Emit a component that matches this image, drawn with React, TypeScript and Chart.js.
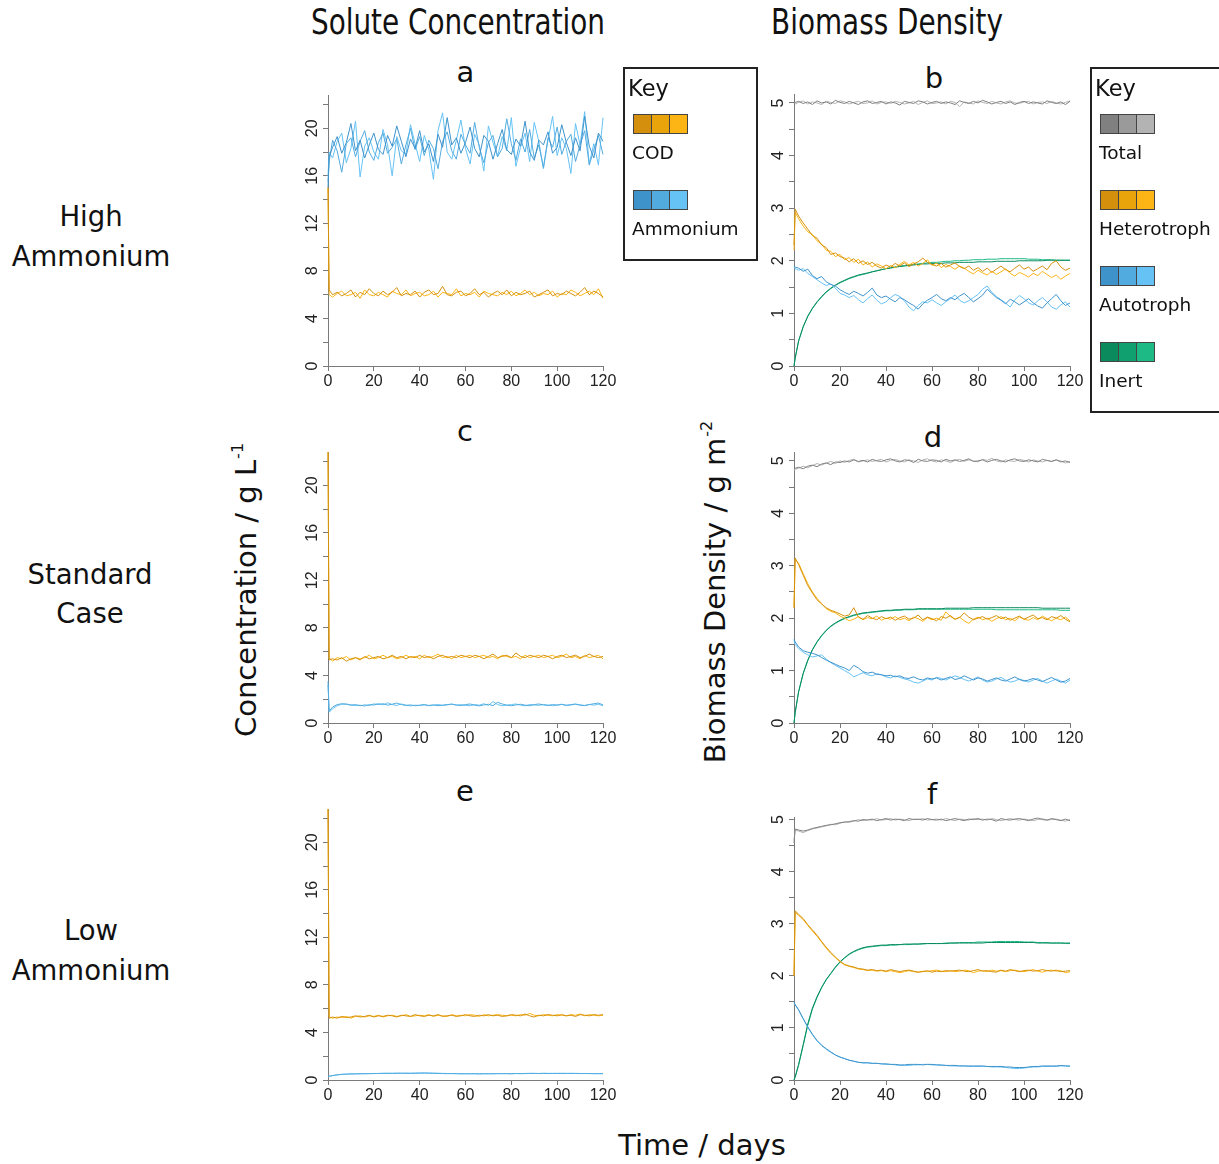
import React, { useEffect, useRef } from 'react';
import { Chart, registerables } from 'chart.js';
Chart.register(...registerables);

// ---------- data ----------
const DAYS = [0, 0.5,
  2, 4, 6, 8, 10, 12, 14, 16, 18, 20,
  22, 24, 26, 28, 30, 32, 34, 36, 38, 40,
  42, 44, 46, 48, 50, 52, 54, 56, 58, 60,
  62, 64, 66, 68, 70, 72, 74, 76, 78, 80,
  82, 84, 86, 88, 90, 92, 94, 96, 98, 100,
  102, 104, 106, 108, 110, 112, 114, 116, 118, 120];

const X_TICKS = [0, 20, 40, 60, 80, 100, 120];
const SOLUTE_TICKS = [0, 2, 4, 6, 8, 10, 12, 14, 16, 18, 20, 22];
const SOLUTE_LABELS = [0, 4, 8, 12, 16, 20];
const BIOMASS_TICKS = [0, 0.5, 1, 1.5, 2, 2.5, 3, 3.5, 4, 4.5, 5];
const BIOMASS_LABELS = [0, 1, 2, 3, 4, 5];

// Panel a: high ammonium, solutes
const COD_A1 = [15, 6.4,
  6.0, 6.2, 5.9, 6.1, 6.4, 5.8, 6.2, 6.0, 6.5, 6.1,
  5.9, 6.3, 6.0, 6.2, 6.6, 5.9, 6.1, 6.0, 6.3, 5.8,
  6.2, 6.4, 6.0, 6.1, 6.7, 6.0, 5.9, 6.2, 6.3, 5.9,
  6.1, 6.5, 6.0, 6.2, 5.8, 6.1, 6.3, 6.0, 6.4, 5.9,
  6.2, 6.0, 6.1, 6.3, 5.8, 6.0, 6.2, 6.4, 5.9, 6.1,
  6.0, 6.3, 6.1, 5.9, 6.2, 6.6, 6.0, 6.3, 6.1, 5.8];
const COD_A2 = [15, 6.0,
  5.8, 6.1, 6.3, 5.9, 6.0, 6.2, 5.7, 6.4, 6.0, 5.9,
  6.2, 6.0, 5.8, 6.3, 6.1, 6.0, 6.4, 5.9, 6.1, 6.2,
  5.9, 6.0, 6.3, 5.8, 6.2, 6.1, 6.0, 6.5, 5.9, 6.1,
  6.0, 6.2, 5.8, 6.3, 6.1, 6.0, 5.9, 6.2, 6.0, 6.3,
  5.9, 6.1, 6.4, 6.0, 6.2, 5.9, 6.1, 6.0, 6.3, 5.8,
  6.1, 6.0, 6.4, 6.2, 5.9, 6.1, 6.3, 6.0, 6.5, 5.7];
const NH4_A1 = [15, 17.6,
  18.4, 19.3, 17.9, 18.8, 20.4, 18.1, 19.0, 17.5, 18.6, 19.6,
  18.2, 17.8, 19.4, 18.5, 20.2, 18.9, 17.6, 19.1, 18.3, 19.8,
  18.0, 18.7, 17.2, 19.5, 18.4, 20.9, 18.6, 19.2, 17.9, 18.8,
  20.1, 18.3, 17.6, 19.4, 18.9, 17.4, 18.7, 19.9, 18.2, 17.8,
  19.1, 18.5, 20.6, 18.0, 17.3, 19.0, 18.6, 19.7, 17.9, 18.4,
  20.3, 18.8, 17.7, 19.2, 18.1, 21.0, 18.5, 17.5, 19.6, 18.9];
const NH4_A2 = [15.5, 17.2,
  19.0, 18.1, 16.3, 18.7, 19.2, 17.6, 18.9, 19.8, 18.0, 17.3,
  18.8, 19.6, 17.9, 18.4, 19.1, 17.0, 18.6, 20.0, 18.2, 19.3,
  17.7, 19.0, 18.3, 16.6, 18.9, 19.7, 18.1, 17.4, 19.5, 18.6,
  17.9, 20.5, 18.4, 17.1, 18.8, 19.4, 17.6, 18.3, 20.8, 18.7,
  17.3, 19.1, 18.0, 19.9, 17.5, 18.6, 16.7, 19.2, 18.4, 20.1,
  17.8, 18.9, 19.5, 17.2, 18.6, 19.8, 16.9, 18.2, 19.4, 17.8];
const NH4_A3 = [16, 18.0,
  17.5, 18.9, 19.6, 17.1, 18.3, 20.6, 15.9, 18.5, 19.2, 18.0,
  17.4, 19.9, 18.6, 16.0, 19.3, 18.1, 17.8, 20.3, 18.7, 17.2,
  19.4, 18.2, 15.7, 19.8, 21.3, 18.0, 17.4, 19.0, 20.7, 18.3,
  17.0, 19.5, 18.6, 16.4, 20.2, 18.8, 17.6, 19.3, 18.1, 20.9,
  16.8, 18.4, 19.6, 17.2, 20.5, 18.9, 16.6, 19.0, 21.0, 17.7,
  19.2, 18.3, 16.2, 20.4, 18.6, 21.4, 17.0, 18.7, 16.9, 20.9];

// Panel b: high ammonium, biomass
const TOT_B1 = [4.98, 5.01,
  5.03, 4.99, 5.02, 4.97, 5.04, 5.00, 5.02, 4.98, 5.05, 5.01,
  4.99, 5.03, 5.00, 4.97, 5.02, 5.04, 4.99, 5.01, 5.03, 4.98,
  5.02, 5.00, 4.96, 5.03, 5.01, 4.99, 5.04, 5.02, 4.98, 5.01,
  5.03, 4.99, 5.02, 5.00, 4.97, 5.04, 5.01, 4.99, 5.03, 5.00,
  5.05, 5.02, 4.98, 5.01, 5.03, 4.99, 5.02, 4.97, 5.01, 5.03,
  4.99, 5.02, 5.00, 4.98, 5.04, 5.01, 4.99, 5.02, 4.97, 5.03];
const TOT_B2 = [5.00, 4.98,
  5.01, 5.04, 4.98, 5.02, 5.00, 4.97, 5.03, 5.01, 4.99, 5.04,
  5.02, 4.98, 5.01, 5.03, 4.99, 5.00, 5.04, 4.98, 5.01, 5.02,
  4.99, 5.03, 5.01, 4.98, 5.00, 5.03, 4.97, 5.01, 5.04, 4.99,
  5.00, 5.02, 4.98, 5.03, 5.01, 4.93, 5.02, 5.00, 4.98, 5.04,
  5.01, 4.99, 5.03, 5.00, 4.98, 5.02, 5.04, 5.00, 4.99, 5.02,
  5.03, 4.98, 5.01, 5.02, 4.99, 5.03, 5.00, 4.98, 5.01, 5.04];
const HET_B1 = [2.3, 2.98,
  2.85, 2.72, 2.6, 2.48, 2.43, 2.3, 2.25, 2.12, 2.15, 2.08,
  2.05, 1.98, 2.04, 1.95, 2.0, 1.93, 1.97, 1.9, 1.86, 1.92,
  1.88, 1.95, 1.9, 1.96, 1.89, 1.94, 1.98, 2.05, 1.97, 1.93,
  1.9, 1.95, 1.88, 1.92, 1.96, 1.89, 1.85, 1.9, 1.82, 1.87,
  1.8, 1.86, 1.78, 1.84, 1.9, 1.83, 1.79, 1.86, 1.92, 1.84,
  1.88, 1.8, 1.85, 1.9, 1.83, 1.95, 2.0, 1.88, 1.82, 1.86];
const HET_B2 = [2.2, 2.92,
  2.8, 2.66, 2.55, 2.5, 2.38, 2.32, 2.2, 2.18, 2.08, 2.12,
  2.02, 2.06, 1.97, 2.03, 1.92, 1.98, 1.88, 1.94, 1.9, 1.85,
  1.91, 1.87, 1.93, 1.99, 1.92, 1.97, 1.9, 1.95, 2.02, 1.91,
  1.96, 1.87, 1.93, 1.89, 1.84, 1.9, 1.86, 1.8, 1.75, 1.82,
  1.77, 1.73, 1.8, 1.74, 1.79, 1.85, 1.76, 1.71, 1.78, 1.74,
  1.69, 1.76, 1.72, 1.8, 1.74, 1.68, 1.73, 1.65, 1.71, 1.76];
const AUT_B1 = [1.9, 1.88,
  1.86, 1.8, 1.84, 1.72, 1.66, 1.7, 1.6, 1.55, 1.52, 1.45,
  1.4, 1.36, 1.42, 1.38, 1.33, 1.4, 1.48, 1.35, 1.3, 1.33,
  1.27, 1.22, 1.3, 1.26, 1.2, 1.15, 1.08, 1.18, 1.25, 1.3,
  1.36, 1.28, 1.24, 1.3, 1.26, 1.33, 1.38, 1.3, 1.22, 1.28,
  1.35, 1.46, 1.38, 1.3, 1.25, 1.18, 1.27, 1.22, 1.16, 1.22,
  1.28, 1.2, 1.14, 1.1, 1.2, 1.28, 1.36, 1.24, 1.15, 1.2];
const AUT_B2 = [1.88, 1.85,
  1.82, 1.85, 1.76, 1.7, 1.64, 1.58, 1.53, 1.56, 1.48, 1.38,
  1.35, 1.3, 1.34, 1.26, 1.2, 1.28, 1.35, 1.25, 1.18, 1.22,
  1.3, 1.36, 1.32, 1.24, 1.12, 1.05, 1.15, 1.22, 1.2, 1.26,
  1.2, 1.15, 1.22, 1.28, 1.35, 1.25, 1.2, 1.24, 1.3, 1.36,
  1.46, 1.52, 1.4, 1.32, 1.26, 1.2, 1.12, 1.26, 1.34, 1.28,
  1.2, 1.16, 1.24, 1.3, 1.22, 1.12, 1.08, 1.16, 1.22, 1.12];
const INERT_B1 = [0, 0.15,
  0.48, 0.75, 0.95, 1.1, 1.22, 1.32, 1.41, 1.48, 1.54, 1.59,
  1.63, 1.67, 1.7, 1.73, 1.75, 1.77, 1.79, 1.81, 1.83, 1.85,
  1.86, 1.88, 1.89, 1.9, 1.91, 1.92, 1.93, 1.94, 1.94, 1.95,
  1.95, 1.95, 1.96, 1.96, 1.96, 1.97, 1.97, 1.97, 1.97, 1.98,
  1.98, 1.98, 1.98, 1.99, 1.99, 1.99, 1.99, 1.99, 2.0, 2.0,
  2.0, 2.0, 2.0, 2.0, 2.01, 2.01, 2.01, 2.01, 2.01, 2.01];
const INERT_B2 = [0, 0.14,
  0.47, 0.74, 0.94, 1.09, 1.21, 1.31, 1.4, 1.47, 1.53, 1.58,
  1.62, 1.66, 1.69, 1.72, 1.74, 1.76, 1.79, 1.81, 1.83, 1.85,
  1.87, 1.88, 1.9, 1.91, 1.92, 1.93, 1.94, 1.95, 1.96, 1.97,
  1.97, 1.98, 1.99, 1.99, 2.0, 2.0, 2.01, 2.01, 2.02, 2.02,
  2.02, 2.03, 2.03, 2.03, 2.04, 2.04, 2.04, 2.04, 2.04, 2.04,
  2.03, 2.03, 2.03, 2.02, 2.02, 2.02, 2.01, 2.01, 2.01, 2.01];

// Panel c: standard case, solutes
const COD_C1 = [22.8, 5.3,
  5.4, 5.3, 5.5, 5.2, 5.4, 5.5, 5.3, 5.6, 5.4, 5.5,
  5.6, 5.4, 5.5, 5.7, 5.5, 5.6, 5.4, 5.6, 5.5, 5.7,
  5.5, 5.6, 5.4, 5.6, 5.7, 5.5, 5.6, 5.5, 5.7, 5.6,
  5.5, 5.7, 5.6, 5.4, 5.6, 5.8, 5.5, 5.6, 5.7, 5.5,
  5.9, 5.6, 5.5, 5.7, 5.6, 5.5, 5.7, 5.6, 5.4, 5.6,
  5.7, 5.5, 5.6, 5.7, 5.5, 5.6, 5.8, 5.6, 5.5, 5.6];
const COD_C2 = [22.8, 5.5,
  5.2, 5.5, 5.4, 5.6, 5.3, 5.5, 5.4, 5.5, 5.7, 5.4,
  5.5, 5.7, 5.5, 5.6, 5.4, 5.5, 5.7, 5.5, 5.6, 5.4,
  5.7, 5.5, 5.6, 5.8, 5.5, 5.6, 5.4, 5.7, 5.5, 5.6,
  5.7, 5.5, 5.6, 5.7, 5.5, 5.6, 5.4, 5.7, 5.6, 5.5,
  5.6, 5.4, 5.7, 5.5, 5.6, 5.7, 5.5, 5.6, 5.7, 5.5,
  5.6, 5.8, 5.5, 5.6, 5.4, 5.7, 5.5, 5.6, 5.7, 5.4];
const NH4_C1 = [3.5, 1.0,
  1.35, 1.55, 1.62, 1.58, 1.5, 1.55, 1.45, 1.52, 1.48, 1.6,
  1.55, 1.62, 1.5, 1.58, 1.68, 1.55, 1.48, 1.52, 1.45, 1.5,
  1.55, 1.48, 1.52, 1.46, 1.5, 1.55, 1.58, 1.52, 1.47, 1.55,
  1.6, 1.5, 1.44, 1.52, 1.58, 1.46, 1.74, 1.6, 1.5, 1.45,
  1.52, 1.58, 1.5, 1.45, 1.55, 1.6, 1.52, 1.48, 1.55, 1.5,
  1.56, 1.48, 1.52, 1.58, 1.5, 1.46, 1.55, 1.62, 1.68, 1.52];
const NH4_C2 = [3.2, 0.9,
  1.2, 1.45, 1.58, 1.6, 1.52, 1.46, 1.5, 1.42, 1.55, 1.5,
  1.65, 1.52, 1.7, 1.55, 1.48, 1.6, 1.5, 1.44, 1.5, 1.47,
  1.52, 1.45, 1.5, 1.55, 1.48, 1.52, 1.6, 1.5, 1.54, 1.48,
  1.45, 1.55, 1.5, 1.62, 1.48, 1.8, 1.55, 1.45, 1.5, 1.55,
  1.6, 1.5, 1.45, 1.55, 1.52, 1.48, 1.56, 1.5, 1.45, 1.52,
  1.58, 1.5, 1.55, 1.6, 1.52, 1.48, 1.56, 1.5, 1.58, 1.45];

// Panel d: standard case, biomass
const TOT_D1 = [4.85, 4.86,
  4.88, 4.85, 4.9, 4.92, 4.89, 4.94, 4.96, 4.93, 4.98, 4.97,
  5.0, 4.98, 5.02, 4.99, 5.01, 4.98, 5.03, 5.0, 4.99, 5.02,
  5.04, 5.0, 4.98, 5.02, 5.01, 4.97, 5.03, 5.0, 4.99, 5.02,
  5.01, 4.98, 5.03, 5.0, 5.02, 4.99, 5.01, 5.04, 4.99, 5.0,
  5.02, 4.98, 5.01, 5.03, 5.0, 4.98, 5.02, 5.04, 5.0, 4.99,
  5.02, 5.0, 4.98, 5.03, 5.01, 4.99, 5.02, 4.98, 5.0, 4.97];
const TOT_D2 = [4.82, 4.84,
  4.86, 4.9, 4.87, 4.91, 4.95, 4.92, 4.96, 4.99, 4.95, 5.0,
  4.97, 5.01, 5.03, 4.98, 5.0, 5.02, 4.99, 5.01, 5.03, 4.98,
  5.01, 5.03, 5.0, 4.98, 5.02, 5.0, 4.97, 5.02, 5.04, 5.0,
  4.98, 5.02, 5.0, 4.97, 5.01, 5.03, 4.99, 5.02, 5.0, 4.98,
  5.03, 5.01, 5.05, 5.0, 4.98, 5.02, 5.0, 4.99, 5.03, 5.01,
  4.98, 5.02, 5.0, 4.98, 5.01, 4.99, 5.02, 5.0, 4.96, 4.99];
const HET_D1 = [2.2, 3.15,
  3.02, 2.82, 2.62, 2.48, 2.35, 2.27, 2.2, 2.15, 2.12, 2.08,
  2.04, 2.06, 2.2, 2.02, 1.98, 2.05, 2.0, 1.97, 2.03, 1.99,
  2.02, 1.96, 2.01, 2.04, 1.98, 2.0, 2.06, 1.97, 2.02, 1.99,
  1.95, 2.03, 2.0, 2.05, 1.98, 2.01, 2.1, 2.02, 1.97, 2.0,
  2.03, 1.98, 2.01, 2.05, 1.99, 2.02, 1.96, 2.0, 2.04, 1.98,
  2.02, 2.06, 1.99, 2.01, 1.97, 2.03, 2.0, 2.05, 1.98, 1.93];
const HET_D2 = [2.2, 3.12,
  3.05, 2.85, 2.66, 2.5, 2.38, 2.28, 2.18, 2.13, 2.1, 2.04,
  2.0, 1.95, 1.98, 2.03, 1.97, 2.01, 1.99, 2.04, 1.96, 2.0,
  1.98, 2.03, 1.97, 2.0, 1.95, 2.02, 1.99, 1.94, 2.01, 1.97,
  2.0, 1.96, 2.12, 2.03, 1.98, 2.02, 1.95, 1.9, 1.98, 2.02,
  1.97, 2.0, 1.94, 1.99, 2.03, 1.97, 2.0, 1.95, 2.02, 1.98,
  1.96, 2.01, 1.97, 2.04, 1.99, 1.95, 2.0, 1.97, 2.02, 1.95];
const AUT_D1 = [1.6, 1.55,
  1.45, 1.38, 1.35, 1.33, 1.3, 1.25, 1.2, 1.16, 1.12, 1.08,
  1.05, 1.0, 1.1, 1.05, 0.98, 0.95, 0.97, 0.93, 0.92, 0.9,
  0.91, 0.88, 0.9, 0.86, 0.85, 0.88, 0.84, 0.82, 0.86, 0.84,
  0.86, 0.82, 0.85, 0.88, 0.83, 0.85, 0.9, 0.86, 0.82, 0.86,
  0.84, 0.8, 0.83, 0.86, 0.82, 0.8, 0.84, 0.88, 0.83, 0.8,
  0.82, 0.85, 0.82, 0.79, 0.83, 0.87, 0.82, 0.78, 0.8, 0.85];
const AUT_D2 = [1.58, 1.5,
  1.42, 1.35, 1.3, 1.26, 1.28, 1.3, 1.22, 1.15, 1.1, 1.05,
  1.0, 0.95, 0.88, 0.92, 0.96, 0.92, 0.9, 0.94, 0.92, 0.88,
  0.86, 0.9, 0.87, 0.84, 0.82, 0.78, 0.76, 0.8, 0.84, 0.82,
  0.87, 0.85, 0.82, 0.86, 0.9, 0.87, 0.83, 0.8, 0.84, 0.88,
  0.82, 0.78, 0.8, 0.84, 0.87, 0.82, 0.78, 0.8, 0.84, 0.81,
  0.78, 0.82, 0.85, 0.8, 0.76, 0.8, 0.84, 0.8, 0.76, 0.82];
const INERT_D1 = [0, 0.2,
  0.6, 0.95, 1.2, 1.4, 1.55, 1.67, 1.77, 1.85, 1.91, 1.96,
  2.0, 2.03, 2.06, 2.08, 2.1, 2.11, 2.12, 2.13, 2.14, 2.15,
  2.15, 2.16, 2.16, 2.17, 2.17, 2.17, 2.18, 2.18, 2.18, 2.18,
  2.18, 2.18, 2.19, 2.19, 2.19, 2.19, 2.19, 2.19, 2.2, 2.2,
  2.2, 2.2, 2.2, 2.2, 2.2, 2.2, 2.2, 2.2, 2.2, 2.2,
  2.2, 2.2, 2.2, 2.19, 2.19, 2.19, 2.19, 2.19, 2.19, 2.19];
const INERT_D2 = [0, 0.19,
  0.59, 0.94, 1.19, 1.39, 1.54, 1.66, 1.76, 1.84, 1.9, 1.95,
  1.99, 2.02, 2.05, 2.07, 2.09, 2.1, 2.11, 2.12, 2.13, 2.14,
  2.14, 2.15, 2.15, 2.16, 2.16, 2.16, 2.17, 2.17, 2.17, 2.17,
  2.17, 2.17, 2.17, 2.17, 2.17, 2.17, 2.17, 2.17, 2.17, 2.17,
  2.17, 2.17, 2.17, 2.16, 2.16, 2.16, 2.16, 2.16, 2.16, 2.16,
  2.16, 2.16, 2.16, 2.16, 2.16, 2.16, 2.16, 2.15, 2.15, 2.15];

// Panel e: low ammonium, solutes
const COD_E1 = [22.8, 5.2,
  5.3, 5.2, 5.35, 5.25, 5.3, 5.4, 5.3, 5.35, 5.45, 5.3,
  5.4, 5.35, 5.45, 5.4, 5.3, 5.45, 5.4, 5.35, 5.5, 5.4,
  5.35, 5.45, 5.4, 5.5, 5.35, 5.4, 5.45, 5.35, 5.4, 5.5,
  5.4, 5.35, 5.45, 5.4, 5.5, 5.4, 5.45, 5.35, 5.4, 5.5,
  5.45, 5.4, 5.55, 5.4, 5.3, 5.45, 5.4, 5.5, 5.45, 5.4,
  5.5, 5.4, 5.45, 5.35, 5.5, 5.45, 5.4, 5.5, 5.45, 5.5];
const COD_E2 = [22.8, 5.3,
  5.2, 5.3, 5.25, 5.35, 5.2, 5.35, 5.4, 5.3, 5.4, 5.35,
  5.45, 5.3, 5.4, 5.45, 5.35, 5.4, 5.5, 5.35, 5.4, 5.45,
  5.4, 5.5, 5.35, 5.45, 5.4, 5.35, 5.5, 5.4, 5.45, 5.4,
  5.5, 5.45, 5.35, 5.5, 5.4, 5.45, 5.5, 5.45, 5.4, 5.45,
  5.4, 5.5, 5.45, 5.6, 5.45, 5.4, 5.5, 5.45, 5.4, 5.5,
  5.45, 5.4, 5.5, 5.45, 5.55, 5.4, 5.5, 5.45, 5.4, 5.45];
const NH4_E1 = [0.3, 0.32,
  0.38, 0.44, 0.48, 0.5, 0.52, 0.52, 0.53, 0.53, 0.54, 0.55,
  0.55, 0.56, 0.56, 0.55, 0.56, 0.57, 0.56, 0.55, 0.56, 0.57,
  0.58, 0.57, 0.56, 0.55, 0.54, 0.53, 0.54, 0.53, 0.52, 0.53,
  0.52, 0.53, 0.52, 0.53, 0.52, 0.53, 0.54, 0.53, 0.54, 0.53,
  0.55, 0.54, 0.55, 0.56, 0.55, 0.54, 0.55, 0.54, 0.56, 0.55,
  0.54, 0.55, 0.56, 0.55, 0.54, 0.55, 0.54, 0.53, 0.54, 0.53];
const NH4_E2 = [0.28, 0.3,
  0.36, 0.42, 0.47, 0.49, 0.5, 0.51, 0.52, 0.53, 0.53, 0.54,
  0.55, 0.56, 0.57, 0.57, 0.58, 0.57, 0.58, 0.58, 0.59, 0.6,
  0.6, 0.59, 0.58, 0.57, 0.56, 0.55, 0.54, 0.54, 0.53, 0.52,
  0.53, 0.52, 0.51, 0.52, 0.53, 0.52, 0.53, 0.54, 0.53, 0.52,
  0.54, 0.53, 0.54, 0.55, 0.56, 0.55, 0.57, 0.56, 0.55, 0.56,
  0.57, 0.56, 0.55, 0.56, 0.55, 0.54, 0.55, 0.54, 0.53, 0.54];

// Panel f: low ammonium, biomass
const TOT_F1 = [4.55, 4.82,
  4.8, 4.78, 4.8, 4.83, 4.85, 4.87, 4.89, 4.9, 4.92, 4.94,
  4.95, 4.96, 4.98, 4.97, 5.0, 4.99, 5.01, 4.98, 5.0, 5.02,
  4.99, 5.01, 5.0, 4.98, 5.02, 5.0, 5.01, 4.99, 5.02, 5.0,
  4.99, 5.01, 4.98, 5.0, 5.02, 5.0, 4.98, 5.01, 5.0, 5.02,
  4.99, 5.01, 5.0, 4.97, 5.02, 5.0, 4.99, 5.01, 5.02, 5.0,
  4.98, 5.01, 5.03, 5.0, 4.99, 5.02, 5.0, 4.98, 5.01, 4.98];
const TOT_F2 = [4.6, 4.8,
  4.78, 4.75, 4.79, 4.82, 4.84, 4.86, 4.88, 4.91, 4.9, 4.93,
  4.96, 4.95, 4.97, 5.0, 4.98, 5.0, 4.99, 5.02, 4.99, 5.0,
  5.02, 4.99, 5.01, 5.0, 4.98, 5.01, 5.0, 5.02, 4.99, 5.0,
  5.01, 4.99, 5.02, 5.0, 4.98, 5.01, 5.0, 4.99, 5.02, 5.0,
  5.01, 4.99, 5.02, 5.0, 4.98, 5.0, 5.02, 5.0, 4.99, 5.01,
  5.0, 4.98, 5.0, 5.02, 4.99, 5.0, 5.01, 4.99, 4.97, 5.0];
const HET_F1 = [2.0, 3.25,
  3.18, 3.1, 2.98, 2.88, 2.78, 2.66, 2.55, 2.45, 2.36, 2.28,
  2.22, 2.19, 2.17, 2.14, 2.13, 2.11, 2.12, 2.1, 2.11, 2.09,
  2.12, 2.1, 2.08, 2.1, 2.11, 2.09, 2.07, 2.08, 2.1, 2.07,
  2.09, 2.08, 2.1, 2.09, 2.1, 2.11, 2.09, 2.08, 2.1, 2.12,
  2.09, 2.1, 2.08, 2.07, 2.11, 2.09, 2.12, 2.1, 2.08, 2.1,
  2.11, 2.09, 2.1, 2.12, 2.1, 2.09, 2.11, 2.08, 2.09, 2.1];
const HET_F2 = [2.0, 3.22,
  3.16, 3.08, 2.97, 2.86, 2.76, 2.65, 2.53, 2.43, 2.35, 2.27,
  2.21, 2.18, 2.16, 2.13, 2.12, 2.1, 2.11, 2.09, 2.1, 2.08,
  2.1, 2.08, 2.06, 2.08, 2.1, 2.08, 2.07, 2.09, 2.08, 2.1,
  2.11, 2.09, 2.08, 2.1, 2.08, 2.09, 2.11, 2.1, 2.06, 2.09,
  2.1, 2.08, 2.11, 2.09, 2.1, 2.08, 2.1, 2.11, 2.09, 2.08,
  2.1, 2.12, 2.09, 2.07, 2.1, 2.11, 2.09, 2.1, 2.06, 2.08];
const AUT_F1 = [1.5, 1.45,
  1.35, 1.18, 1.02, 0.88, 0.76, 0.67, 0.6, 0.54, 0.48, 0.44,
  0.41, 0.38, 0.36, 0.34, 0.33, 0.33, 0.32, 0.32, 0.31, 0.31,
  0.3, 0.3, 0.29, 0.29, 0.3, 0.3, 0.3, 0.29, 0.3, 0.3,
  0.29, 0.29, 0.28, 0.28, 0.28, 0.27, 0.27, 0.27, 0.27, 0.27,
  0.27, 0.26, 0.26, 0.26, 0.26, 0.25, 0.25, 0.24, 0.24, 0.24,
  0.25, 0.26, 0.26, 0.27, 0.27, 0.27, 0.27, 0.28, 0.27, 0.27];
const AUT_F2 = [1.48, 1.44,
  1.34, 1.17, 1.01, 0.87, 0.75, 0.66, 0.59, 0.53, 0.48, 0.44,
  0.41, 0.38, 0.36, 0.34, 0.33, 0.33, 0.32, 0.32, 0.31, 0.3,
  0.3, 0.29, 0.28, 0.28, 0.28, 0.29, 0.29, 0.3, 0.3, 0.29,
  0.29, 0.28, 0.28, 0.27, 0.27, 0.27, 0.27, 0.26, 0.26, 0.26,
  0.26, 0.26, 0.25, 0.25, 0.25, 0.24, 0.23, 0.22, 0.22, 0.23,
  0.24, 0.25, 0.25, 0.26, 0.26, 0.26, 0.26, 0.27, 0.27, 0.26];
const INERT_F1 = [0, 0.06,
  0.3, 0.68, 1.08, 1.38, 1.6, 1.78, 1.93, 2.05, 2.17, 2.27,
  2.35, 2.42, 2.47, 2.51, 2.54, 2.56, 2.57, 2.58, 2.59, 2.59,
  2.6, 2.6, 2.6, 2.61, 2.61, 2.61, 2.61, 2.62, 2.62, 2.62,
  2.62, 2.62, 2.62, 2.63, 2.63, 2.63, 2.63, 2.63, 2.63, 2.63,
  2.63, 2.64, 2.64, 2.64, 2.64, 2.64, 2.64, 2.64, 2.64, 2.64,
  2.64, 2.64, 2.63, 2.63, 2.63, 2.63, 2.63, 2.63, 2.63, 2.63];
const INERT_F2 = [0, 0.05,
  0.28, 0.66, 1.05, 1.36, 1.58, 1.77, 1.92, 2.04, 2.16, 2.26,
  2.34, 2.41, 2.46, 2.5, 2.53, 2.55, 2.56, 2.57, 2.58, 2.58,
  2.59, 2.59, 2.6, 2.6, 2.6, 2.61, 2.61, 2.61, 2.62, 2.62,
  2.62, 2.62, 2.63, 2.63, 2.63, 2.64, 2.64, 2.64, 2.64, 2.65,
  2.65, 2.65, 2.65, 2.66, 2.66, 2.66, 2.66, 2.66, 2.66, 2.65,
  2.65, 2.65, 2.64, 2.64, 2.64, 2.63, 2.63, 2.63, 2.62, 2.62];

// ---------- styles ----------
const ORANGE = ['#D4900C', '#E9A30B', '#FDB515'];
const BLUE = ['#3F93CB', '#52ABDF', '#66C2F5'];
const GREY = ['#808080', '#9A9A9A', '#B3B3B3'];
const GREEN = ['#0B8A5E', '#10A070', '#1DBA85'];

const SANS = '"DejaVu Sans", Verdana, sans-serif';
const NARROW = '"DejaVu Sans Condensed", "Liberation Sans Narrow", "Arial Narrow", sans-serif';
const AXIS_FONT = '"Liberation Sans", Arial, Helvetica, sans-serif';
const AXIS_COLOR = '#7a7a7a';
const TICK_TEXT = '#222';
const TICK_SIZE = 16;

const YW = 30;
const PT = 8;
const PR = 22;
const XH = 32;

type LineDef = { data: number[]; color: string };
type PanelDef = {
  x: number; y: number; w: number; h: number;
  yMax: number; yTicks: number[]; yLabels: number[];
  lines: LineDef[];
};

const PANELS: PanelDef[] = [
  { x: 328, y: 95, w: 275, h: 271, yMax: 22.8, yTicks: SOLUTE_TICKS, yLabels: SOLUTE_LABELS,
    lines: [
      { data: COD_A1, color: ORANGE[0] }, { data: COD_A2, color: ORANGE[2] },
      { data: NH4_A1, color: BLUE[0] }, { data: NH4_A2, color: BLUE[1] }, { data: NH4_A3, color: BLUE[2] },
    ] },
  { x: 794, y: 94, w: 276, h: 272, yMax: 5.17, yTicks: BIOMASS_TICKS, yLabels: BIOMASS_LABELS,
    lines: [
      { data: TOT_B1, color: GREY[0] }, { data: TOT_B2, color: GREY[2] },
      { data: HET_B1, color: ORANGE[0] }, { data: HET_B2, color: ORANGE[2] },
      { data: AUT_B1, color: BLUE[0] }, { data: AUT_B2, color: BLUE[2] },
      { data: INERT_B1, color: GREEN[0] }, { data: INERT_B2, color: GREEN[2] },
    ] },
  { x: 328, y: 452, w: 275, h: 271, yMax: 22.8, yTicks: SOLUTE_TICKS, yLabels: SOLUTE_LABELS,
    lines: [
      { data: COD_C1, color: ORANGE[0] }, { data: COD_C2, color: ORANGE[2] },
      { data: NH4_C1, color: BLUE[1] }, { data: NH4_C2, color: BLUE[2] },
    ] },
  { x: 794, y: 452, w: 276, h: 271, yMax: 5.17, yTicks: BIOMASS_TICKS, yLabels: BIOMASS_LABELS,
    lines: [
      { data: TOT_D1, color: GREY[0] }, { data: TOT_D2, color: GREY[2] },
      { data: HET_D1, color: ORANGE[0] }, { data: HET_D2, color: ORANGE[2] },
      { data: AUT_D1, color: BLUE[0] }, { data: AUT_D2, color: BLUE[2] },
      { data: INERT_D1, color: GREEN[0] }, { data: INERT_D2, color: GREEN[2] },
    ] },
  { x: 328, y: 809, w: 275, h: 271, yMax: 22.8, yTicks: SOLUTE_TICKS, yLabels: SOLUTE_LABELS,
    lines: [
      { data: COD_E1, color: ORANGE[0] }, { data: COD_E2, color: ORANGE[2] },
      { data: NH4_E1, color: BLUE[1] }, { data: NH4_E2, color: BLUE[2] },
    ] },
  { x: 794, y: 817, w: 276, h: 263, yMax: 5.05, yTicks: BIOMASS_TICKS, yLabels: BIOMASS_LABELS,
    lines: [
      { data: TOT_F1, color: GREY[0] }, { data: TOT_F2, color: GREY[2] },
      { data: HET_F1, color: ORANGE[0] }, { data: HET_F2, color: ORANGE[2] },
      { data: AUT_F1, color: BLUE[0] }, { data: AUT_F2, color: BLUE[2] },
      { data: INERT_F1, color: GREEN[0] }, { data: INERT_F2, color: GREEN[2] },
    ] },
];

function yLabelPlugin(labels: number[]) {
  return {
    id: 'rotatedYLabels',
    afterDraw(chart: any) {
      const { ctx, chartArea, scales } = chart;
      const ys = scales.y;
      ctx.save();
      ctx.fillStyle = TICK_TEXT;
      ctx.font = `${TICK_SIZE}px ${AXIS_FONT}`;
      ctx.textAlign = 'center';
      ctx.textBaseline = 'middle';
      labels.forEach((v) => {
        ctx.save();
        ctx.translate(chartArea.left - 15, ys.getPixelForValue(v));
        ctx.rotate(-Math.PI / 2);
        ctx.fillText(String(v), 0, 0);
        ctx.restore();
      });
      ctx.restore();
    },
  };
}

function Panel({ def }: { def: PanelDef }) {
  const ref = useRef<HTMLCanvasElement>(null);
  const cw = def.w + YW + PR;
  const ch = def.h + PT + XH;
  useEffect(() => {
    const canvas = ref.current;
    if (!canvas) return;
    const gridOpts = { display: true, drawOnChartArea: false, drawTicks: true, tickLength: 5, color: AXIS_COLOR, lineWidth: 1 };
    const borderOpts = { display: true, color: AXIS_COLOR, width: 1 };
    const chart = new Chart(canvas, {
      type: 'line',
      data: {
        datasets: def.lines.map((l) => ({
          data: l.data.map((v, i) => ({ x: DAYS[i], y: v })),
          borderColor: l.color,
          borderWidth: 1,
          pointRadius: 0,
          fill: false,
          tension: 0,
          clip: false as any,
        })),
      },
      options: {
        animation: false,
        responsive: false,
        maintainAspectRatio: false,
        events: [],
        layout: { padding: { top: PT, right: PR, left: 0, bottom: 0 } },
        plugins: { legend: { display: false }, tooltip: { enabled: false } },
        scales: {
          x: {
            type: 'linear', min: 0, max: 120,
            afterBuildTicks: (s: any) => { s.ticks = X_TICKS.map((v) => ({ value: v })); },
            afterFit: (s: any) => { s.height = XH; },
            ticks: { autoSkip: false, maxRotation: 0, minRotation: 0, padding: 1, color: TICK_TEXT, font: { family: AXIS_FONT, size: TICK_SIZE } },
            grid: gridOpts, border: borderOpts,
          },
          y: {
            type: 'linear', min: 0, max: def.yMax,
            afterBuildTicks: (s: any) => { s.ticks = def.yTicks.map((v) => ({ value: v })); },
            afterFit: (s: any) => { s.width = YW; },
            ticks: { display: false },
            grid: gridOpts, border: borderOpts,
          },
        },
      } as any,
      plugins: [yLabelPlugin(def.yLabels)],
    });
    return () => chart.destroy();
  }, [def]);
  return (
    <canvas
      ref={ref}
      width={cw}
      height={ch}
      style={{ position: 'absolute', left: def.x - YW, top: def.y - PT, width: cw, height: ch }}
    />
  );
}

function Txt({ x, base, size, font = SANS, center = false, sx = 1, children }: any) {
  const tf: string[] = [];
  if (center) tf.push('translateX(-50%)');
  if (sx !== 1) tf.push(`scaleX(${sx})`);
  return (
    <div style={{
      position: 'absolute', left: x, top: base - 0.846 * size, fontSize: size, lineHeight: `${size}px`,
      fontFamily: font, whiteSpace: 'nowrap', color: '#111',
      transform: tf.length ? tf.join(' ') : undefined,
    }}>{children}</div>
  );
}

function VTxt({ cx, cy, size, children }: any) {
  return (
    <div style={{
      position: 'absolute', left: cx, top: cy, fontSize: size, lineHeight: `${size}px`,
      fontFamily: SANS, whiteSpace: 'nowrap', color: '#111',
      transform: 'translate(-50%, -50%) rotate(-90deg)',
    }}>{children}</div>
  );
}

function Sup({ children }: any) {
  return <span style={{ fontSize: '0.55em', position: 'relative', top: '-0.8em', marginLeft: 1 }}>{children}</span>;
}

function Swatch({ x, y, colors }: { x: number; y: number; colors: string[] }) {
  return (
    <div style={{ position: 'absolute', left: x, top: y, display: 'flex' }}>
      {colors.map((c, i) => (
        <div key={i} style={{ width: 17, height: 18, background: c, border: '1px solid #444', marginLeft: i ? -1 : 0 }} />
      ))}
    </div>
  );
}

const PANEL_LETTERS = [
  { t: 'a', x: 465.5, base: 83 },
  { t: 'b', x: 934, base: 89 },
  { t: 'c', x: 465, base: 441.5 },
  { t: 'd', x: 933, base: 448 },
  { t: 'e', x: 465, base: 801.5 },
  { t: 'f', x: 932, base: 805 },
];

export default function App() {
  useEffect(() => {
    document.body.style.margin = '0';
    document.body.style.overflow = 'hidden';
  }, []);
  return (
    <div style={{ position: 'absolute', left: 0, top: 0, width: 1219, height: 1164, background: '#fff', overflow: 'hidden' }}>
      <Txt x={457.5} base={34} size={36} font={NARROW} center sx={0.86}>Solute Concentration</Txt>
      <Txt x={886.5} base={34} size={36} font={NARROW} center sx={0.86}>Biomass Density</Txt>

      <Txt x={91} base={226} size={27.5} center>High</Txt>
      <Txt x={91} base={266} size={27.5} center>Ammonium</Txt>
      <Txt x={90} base={584} size={27.5} center>Standard</Txt>
      <Txt x={90} base={623} size={27.5} center>Case</Txt>
      <Txt x={91} base={940} size={27.5} center>Low</Txt>
      <Txt x={91} base={980} size={27.5} center>Ammonium</Txt>

      {PANEL_LETTERS.map((p) => (
        <Txt key={p.t} x={p.x} base={p.base} size={29} center>{p.t}</Txt>
      ))}

      <VTxt cx={248} cy={590} size={29}>Concentration / g L<Sup>-1</Sup></VTxt>
      <VTxt cx={717} cy={592} size={29}>Biomass Density / g m<Sup>-2</Sup></VTxt>
      <Txt x={702} base={1156} size={29} center>Time / days</Txt>

      {PANELS.map((p, i) => <Panel key={i} def={p} />)}

      <div style={{ position: 'absolute', left: 623, top: 67, width: 131, height: 190, border: '2px solid #222' }} />
      <Txt x={628} base={96} size={22.5}>Key</Txt>
      <Swatch x={633} y={114} colors={ORANGE} />
      <Txt x={632} base={160} size={18.5}>COD</Txt>
      <Swatch x={633} y={190} colors={BLUE} />
      <Txt x={632} base={236} size={18.5}>Ammonium</Txt>

      <div style={{ position: 'absolute', left: 1090, top: 67, width: 140, height: 342, border: '2px solid #222' }} />
      <Txt x={1095} base={96} size={22.5}>Key</Txt>
      <Swatch x={1100} y={114} colors={GREY} />
      <Txt x={1099} base={160} size={18.5}>Total</Txt>
      <Swatch x={1100} y={190} colors={ORANGE} />
      <Txt x={1099} base={236} size={18.5}>Heterotroph</Txt>
      <Swatch x={1100} y={266} colors={BLUE} />
      <Txt x={1099} base={312} size={18.5}>Autotroph</Txt>
      <Swatch x={1100} y={342} colors={GREEN} />
      <Txt x={1099} base={388} size={18.5}>Inert</Txt>
    </div>
  );
}
